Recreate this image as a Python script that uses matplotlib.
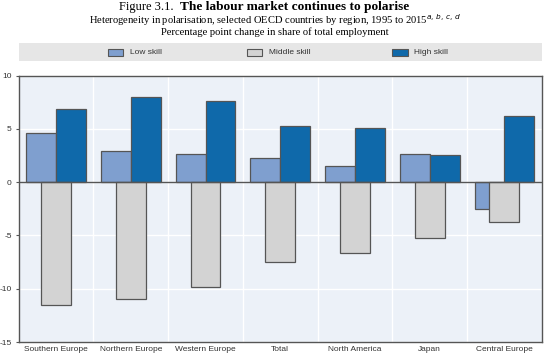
import matplotlib
matplotlib.use('Agg')
import matplotlib.pyplot as plt
import numpy as np
from matplotlib.patches import Rectangle

regions = ['Southern Europe', 'Northern Europe', 'Western Europe', 'Total',
           'North America', 'Japan', 'Central Europe']
low_skill = [4.66, 2.94, 2.69, 2.31, 1.56, 2.63, -2.54]
middle_skill = [-11.55, -10.93, -9.80, -7.48, -6.64, -5.20, -3.73]
high_skill = [6.91, 7.98, 7.66, 5.29, 5.10, 2.56, 6.25]
series_names = ['Low skill', 'Middle skill', 'High skill']
yticks = [-15, -10, -5, 0, 5, 10]

c_low = '#7f9fcf'
c_mid = '#d3d3d3'
c_high = '#0f69aa'
edge = '#555555'
sans = ['Liberation Sans', 'DejaVu Sans']
serif = ['Liberation Serif', 'DejaVu Serif']

fig = plt.figure(figsize=(5.5, 3.57), dpi=100)
ax = fig.add_axes([0.034, 0.042, 0.951, 0.746])

x = np.arange(len(regions))
w = 0.4
ax.bar(x - 0.2, low_skill, w, color=c_low, edgecolor=edge, linewidth=0.9, zorder=3)
ax.bar(x + 0.2, high_skill, w, color=c_high, edgecolor=edge, linewidth=0.9, zorder=3)
ax.bar(x, middle_skill, w, color=c_mid, edgecolor=edge, linewidth=0.9, zorder=4)

ax.set_facecolor('#ecf1f8')
ax.set_xlim(-0.5, len(regions) - 0.5)
ax.set_ylim(-15, 10)
ax.set_yticks(yticks)
ax.set_yticklabels([str(t) for t in yticks], fontsize=6, family=sans, color='#333333')
ax.set_xticks(x)
ax.set_xticklabels(regions, fontsize=6, family=sans, color='#333333')
ax.tick_params(axis='x', length=0, pad=3)
ax.tick_params(axis='y', length=2, width=0.8, color=edge, pad=3)
for t in yticks:
    ax.axhline(t, color='white', linewidth=1.0, zorder=1)
for b in np.arange(0.5, len(regions) - 0.5, 1):
    ax.axvline(b, color='white', linewidth=1.0, zorder=1)
ax.axhline(0, color=edge, linewidth=1.0, zorder=5)
for s in ax.spines.values():
    s.set_color(edge)
    s.set_linewidth(1.0)

# legend band
fig.patches.append(Rectangle((0.034, 0.829), 0.951, 0.051, transform=fig.transFigure,
                             facecolor='#e6e6e6', edgecolor='none'))
leg_x = [0.196, 0.449, 0.713]
leg_c = [c_low, c_mid, c_high]
for lx, lc, name in zip(leg_x, leg_c, series_names):
    fig.patches.append(Rectangle((lx, 0.843), 0.028, 0.02, transform=fig.transFigure,
                                 facecolor=lc, edgecolor=edge, linewidth=0.8))
    fig.text(lx + 0.04, 0.853, name, fontsize=6, family=sans, color='#333333', va='center')

fig.text(0.315, 0.979, 'Figure 3.1.', fontsize=9.0, family=serif, ha='right', va='center')
fig.text(0.327, 0.979, 'The labour market continues to polarise', fontsize=9.6, family=serif,
         weight='bold', ha='left', va='center')
fig.text(0.5, 0.943, 'Heterogeneity in polarisation, selected OECD countries by region, 1995 to 2015$^{a,\\,b,\\,c,\\,d}$',
         fontsize=7.6, family=serif, ha='center', va='center')
fig.text(0.5, 0.909, 'Percentage point change in share of total employment',
         fontsize=7.6, family=serif, ha='center', va='center')

fig.savefig('out.png', dpi=100)
